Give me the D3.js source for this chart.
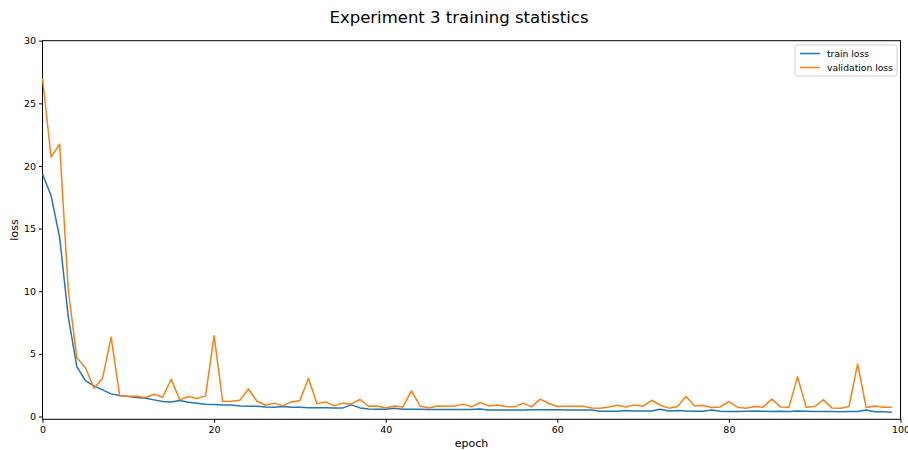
<!DOCTYPE html>
<html>
<head>
<meta charset="utf-8">
<script src="https://cdn.jsdelivr.net/npm/d3@7"></script>
<style>
  body { margin: 0; background: #fff; }
  svg text { font-family: "DejaVu Sans", sans-serif; fill: #000; }
  .axis path, .axis line { stroke: #000; stroke-width: 1; }
</style>
</head>
<body>
<div id="chart"></div>
<script>
// loss values per epoch
let trainLoss = [
    19.36, 17.63, 14.28, 7.98, 3.99, 2.87, 2.45, 2.13, 1.81, 1.68,
    1.6, 1.52, 1.46, 1.33, 1.2, 1.17, 1.28, 1.14, 1.06, 0.98,
    0.97, 0.93, 0.93, 0.85, 0.83, 0.83, 0.76, 0.75, 0.8, 0.75,
    0.75, 0.7, 0.7, 0.7, 0.69, 0.69, 0.93, 0.69, 0.61, 0.59,
    0.58, 0.66, 0.58, 0.58, 0.58, 0.57, 0.56, 0.56, 0.56, 0.56,
    0.56, 0.61, 0.53, 0.53, 0.53, 0.53, 0.53, 0.55, 0.55, 0.55,
    0.55, 0.53, 0.53, 0.53, 0.53, 0.43, 0.43, 0.43, 0.48, 0.45,
    0.45, 0.45, 0.59, 0.45, 0.48, 0.45, 0.43, 0.43, 0.53, 0.43,
    0.4, 0.4, 0.43, 0.45, 0.43, 0.4, 0.43, 0.4, 0.45, 0.43,
    0.4, 0.4, 0.4, 0.38, 0.4, 0.4, 0.53, 0.38, 0.38, 0.35
];

let validationLoss = [
    27.0, 20.7, 21.75, 10.1, 4.7, 3.9, 2.26, 3.06, 6.33, 1.65,
    1.62, 1.62, 1.5, 1.78, 1.54, 2.98, 1.33, 1.6, 1.44, 1.65,
    6.44, 1.2, 1.22, 1.3, 2.2, 1.22, 0.9, 1.07, 0.85, 1.17,
    1.28, 3.06, 1.01, 1.17, 0.85, 1.07, 1.01, 1.36, 0.83, 0.85,
    0.69, 0.85, 0.77, 2.05, 0.85, 0.69, 0.85, 0.83, 0.83, 0.99,
    0.77, 1.12, 0.85, 0.93, 0.8, 0.77, 1.07, 0.77, 1.39, 1.04,
    0.8, 0.83, 0.83, 0.83, 0.69, 0.67, 0.77, 0.9, 0.77, 0.93,
    0.83, 1.3, 0.9, 0.67, 0.8, 1.6, 0.85, 0.88, 0.72, 0.77,
    1.2, 0.75, 0.67, 0.8, 0.75, 1.39, 0.77, 0.75, 3.17, 0.75,
    0.8, 1.33, 0.69, 0.67, 0.8, 4.2, 0.72, 0.85, 0.75, 0.75
];

let epochs = d3.range(trainLoss.length);
let xTicks = [0, 20, 40, 60, 80, 100];
let yTicks = [0, 5, 10, 15, 20, 25, 30];
let seriesNames = ["train loss", "validation loss"];
let seriesColors = ["#1f77b4", "#ff7f0e"];

let width = 908, height = 450;
let margin = {top: 40.7, right: 7.5, bottom: 30.7, left: 42.5};
let plotW = width - margin.left - margin.right,
    plotH = height - margin.top - margin.bottom;

let svg = d3.select("#chart").append("svg")
    .attr("width", width)
    .attr("height", height);

let g = svg.append("g")
    .attr("transform", "translate(" + margin.left + "," + margin.top + ")");

let x = d3.scaleLinear().domain([0, 100]).range([0, plotW]);
let y = d3.scaleLinear().domain([-0.22, 30]).range([plotH, 0]);

// axes
let xAxis = d3.axisBottom(x).tickValues(xTicks).tickSize(3.5).tickPadding(3);
let yAxis = d3.axisLeft(y).tickValues(yTicks).tickSize(3.5).tickPadding(3);

g.append("g")
    .attr("class", "axis")
    .attr("transform", "translate(0," + plotH + ")")
    .call(xAxis)
    .call(s => s.select(".domain").remove())
    .selectAll("text").attr("font-size", 9.5);

g.append("g")
    .attr("class", "axis")
    .call(yAxis)
    .call(s => s.select(".domain").remove())
    .selectAll("text").attr("font-size", 9.5);

// frame
g.append("rect")
    .attr("width", plotW)
    .attr("height", plotH)
    .attr("fill", "none")
    .attr("stroke", "#000")
    .attr("stroke-width", 1);

// lines
let line = d3.line()
    .x((d, i) => x(epochs[i]))
    .y(d => y(d));

[trainLoss, validationLoss].forEach(function(series, k) {
    g.append("path")
        .datum(series)
        .attr("fill", "none")
        .attr("stroke", seriesColors[k])
        .attr("stroke-width", 1.5)
        .attr("stroke-linejoin", "round")
        .attr("d", line);
});

// titles
svg.append("text")
    .attr("x", 459)
    .attr("y", 23)
    .attr("text-anchor", "middle")
    .attr("font-size", 16.5)
    .text("Experiment 3 training statistics");

svg.append("text")
    .attr("x", margin.left + plotW / 2)
    .attr("y", 447)
    .attr("text-anchor", "middle")
    .attr("font-size", 11)
    .text("epoch");

svg.append("text")
    .attr("transform", "translate(18," + (margin.top + plotH / 2) + ") rotate(-90)")
    .attr("text-anchor", "middle")
    .attr("font-size", 11)
    .text("loss");

// legend
let legend = svg.append("g").attr("transform", "translate(795,45)");
legend.append("rect")
    .attr("width", 102)
    .attr("height", 31)
    .attr("rx", 2.5)
    .attr("fill", "#fff")
    .attr("fill-opacity", 0.8)
    .attr("stroke", "#d0d0d0");

seriesNames.forEach(function(name, k) {
    let row = legend.append("g").attr("transform", "translate(5," + (8.5 + k * 14) + ")");
    row.append("line")
        .attr("x1", 0).attr("x2", 20)
        .attr("stroke", seriesColors[k])
        .attr("stroke-width", 1.5);
    row.append("text")
        .attr("x", 27)
        .attr("dy", "0.35em")
        .attr("font-size", 9.2)
        .text(name);
});
</script>
</body>
</html>
